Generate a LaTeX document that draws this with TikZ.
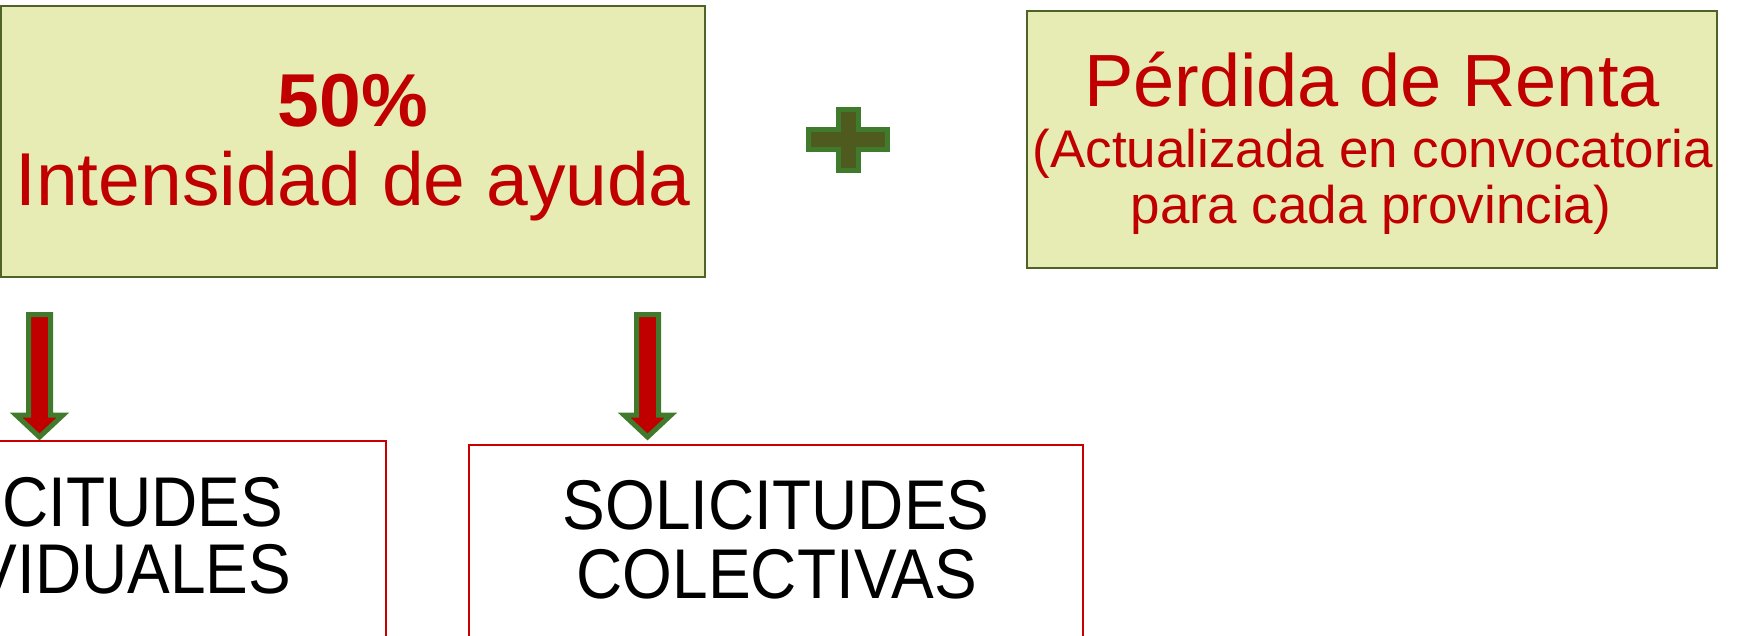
\documentclass[tikz,border=0pt]{standalone}
\usepackage{fontspec}
\usepackage{graphicx}
\setmainfont{Liberation Sans}
\definecolor{boxfill}{RGB}{230,236,180}
\definecolor{boxline}{RGB}{79,98,40}
\definecolor{txtred}{RGB}{192,0,0}
\definecolor{arrgreen}{RGB}{64,122,44}
\definecolor{plusfill}{RGB}{78,90,30}
\definecolor{redline}{RGB}{200,0,0}
\newcommand{\tallbox}[1]{\scalebox{1}[1.1]{#1}}
\begin{document}
\begin{tikzpicture}[x=1pt,y=-1pt,
  greenbox/.style={draw=boxline, fill=boxfill, line width=1.5pt, inner sep=0pt, outer sep=0pt},
  whitebox/.style={draw=redline, fill=white, line width=1.5pt, inner sep=0pt, outer sep=0pt},
  blockarrow/.style={draw=arrgreen, fill=txtred, line width=5pt},
  plusshape/.style={draw=arrgreen, fill=plusfill, line width=5pt},
  bigred/.style={anchor=base, inner sep=0pt, text=txtred, font=\fontsize{75pt}{75pt}\selectfont},
  midred/.style={anchor=base, inner sep=0pt, text=txtred, font=\fontsize{53pt}{53pt}\selectfont},
  blacktxt/.style={anchor=base, inner sep=0pt, text=black, font=\fontsize{64pt}{64pt}\selectfont}]
\useasboundingbox (0,0) rectangle (1739,636);
\clip (0,0) rectangle (1739,636);
% top boxes
\node[greenbox, minimum width=704pt, minimum height=271pt, anchor=north west] (b1) at (1,6) {};
\node[greenbox, minimum width=690pt, minimum height=257pt, anchor=north west] (b2) at (1027,11) {};
\node[bigred] (t1a) at (353,127) {\textbf{50\%}};
\node[bigred] (t1b) at (353,206) {Intensidad de ayuda};
\node[bigred, font=\fontsize{74pt}{74pt}\selectfont] (t2a) at (1372,107) {Pérdida de Renta};
\node[midred] (t2b) at (1373,168) {(Actualizada en convocatoria};
\node[midred] (t2c) at (1371,224) {para cada provincia)};
% plus sign
\draw[plusshape] (838,109.5) -- (858,109.5) -- (858,130) -- (887.5,130) -- (887.5,150)
  -- (858,150) -- (858,170.5) -- (838,170.5) -- (838,150) -- (808.5,150) -- (808.5,130)
  -- (838,130) -- cycle;
% bottom boxes
\node[whitebox, minimum width=620pt, minimum height=300pt, anchor=north east] (b3) at (386,441) {};
\node[whitebox, minimum width=614pt, minimum height=300pt, anchor=north west] (b4) at (469,445) {};
\node[blacktxt] (t3a) at (70,526) {\tallbox{SOLICITUDES}};
\node[blacktxt] (t3b) at (69,593) {\tallbox{INDIVIDUALES}};
\node[blacktxt] (t4a) at (776,529) {\tallbox{SOLICITUDES}};
\node[blacktxt] (t4b) at (777,598) {\tallbox{COLECTIVAS}};
% block arrows
\draw[blockarrow] (28.5,314.5) -- (50.5,314.5) -- (50.5,415) -- (63,415) -- (39.5,437)
  -- (16,415) -- (28.5,415) -- cycle;
\draw[blockarrow] (636.5,314.5) -- (658.5,314.5) -- (658.5,415) -- (671,415) -- (647.5,437)
  -- (624,415) -- (636.5,415) -- cycle;
\end{tikzpicture}
\end{document}
